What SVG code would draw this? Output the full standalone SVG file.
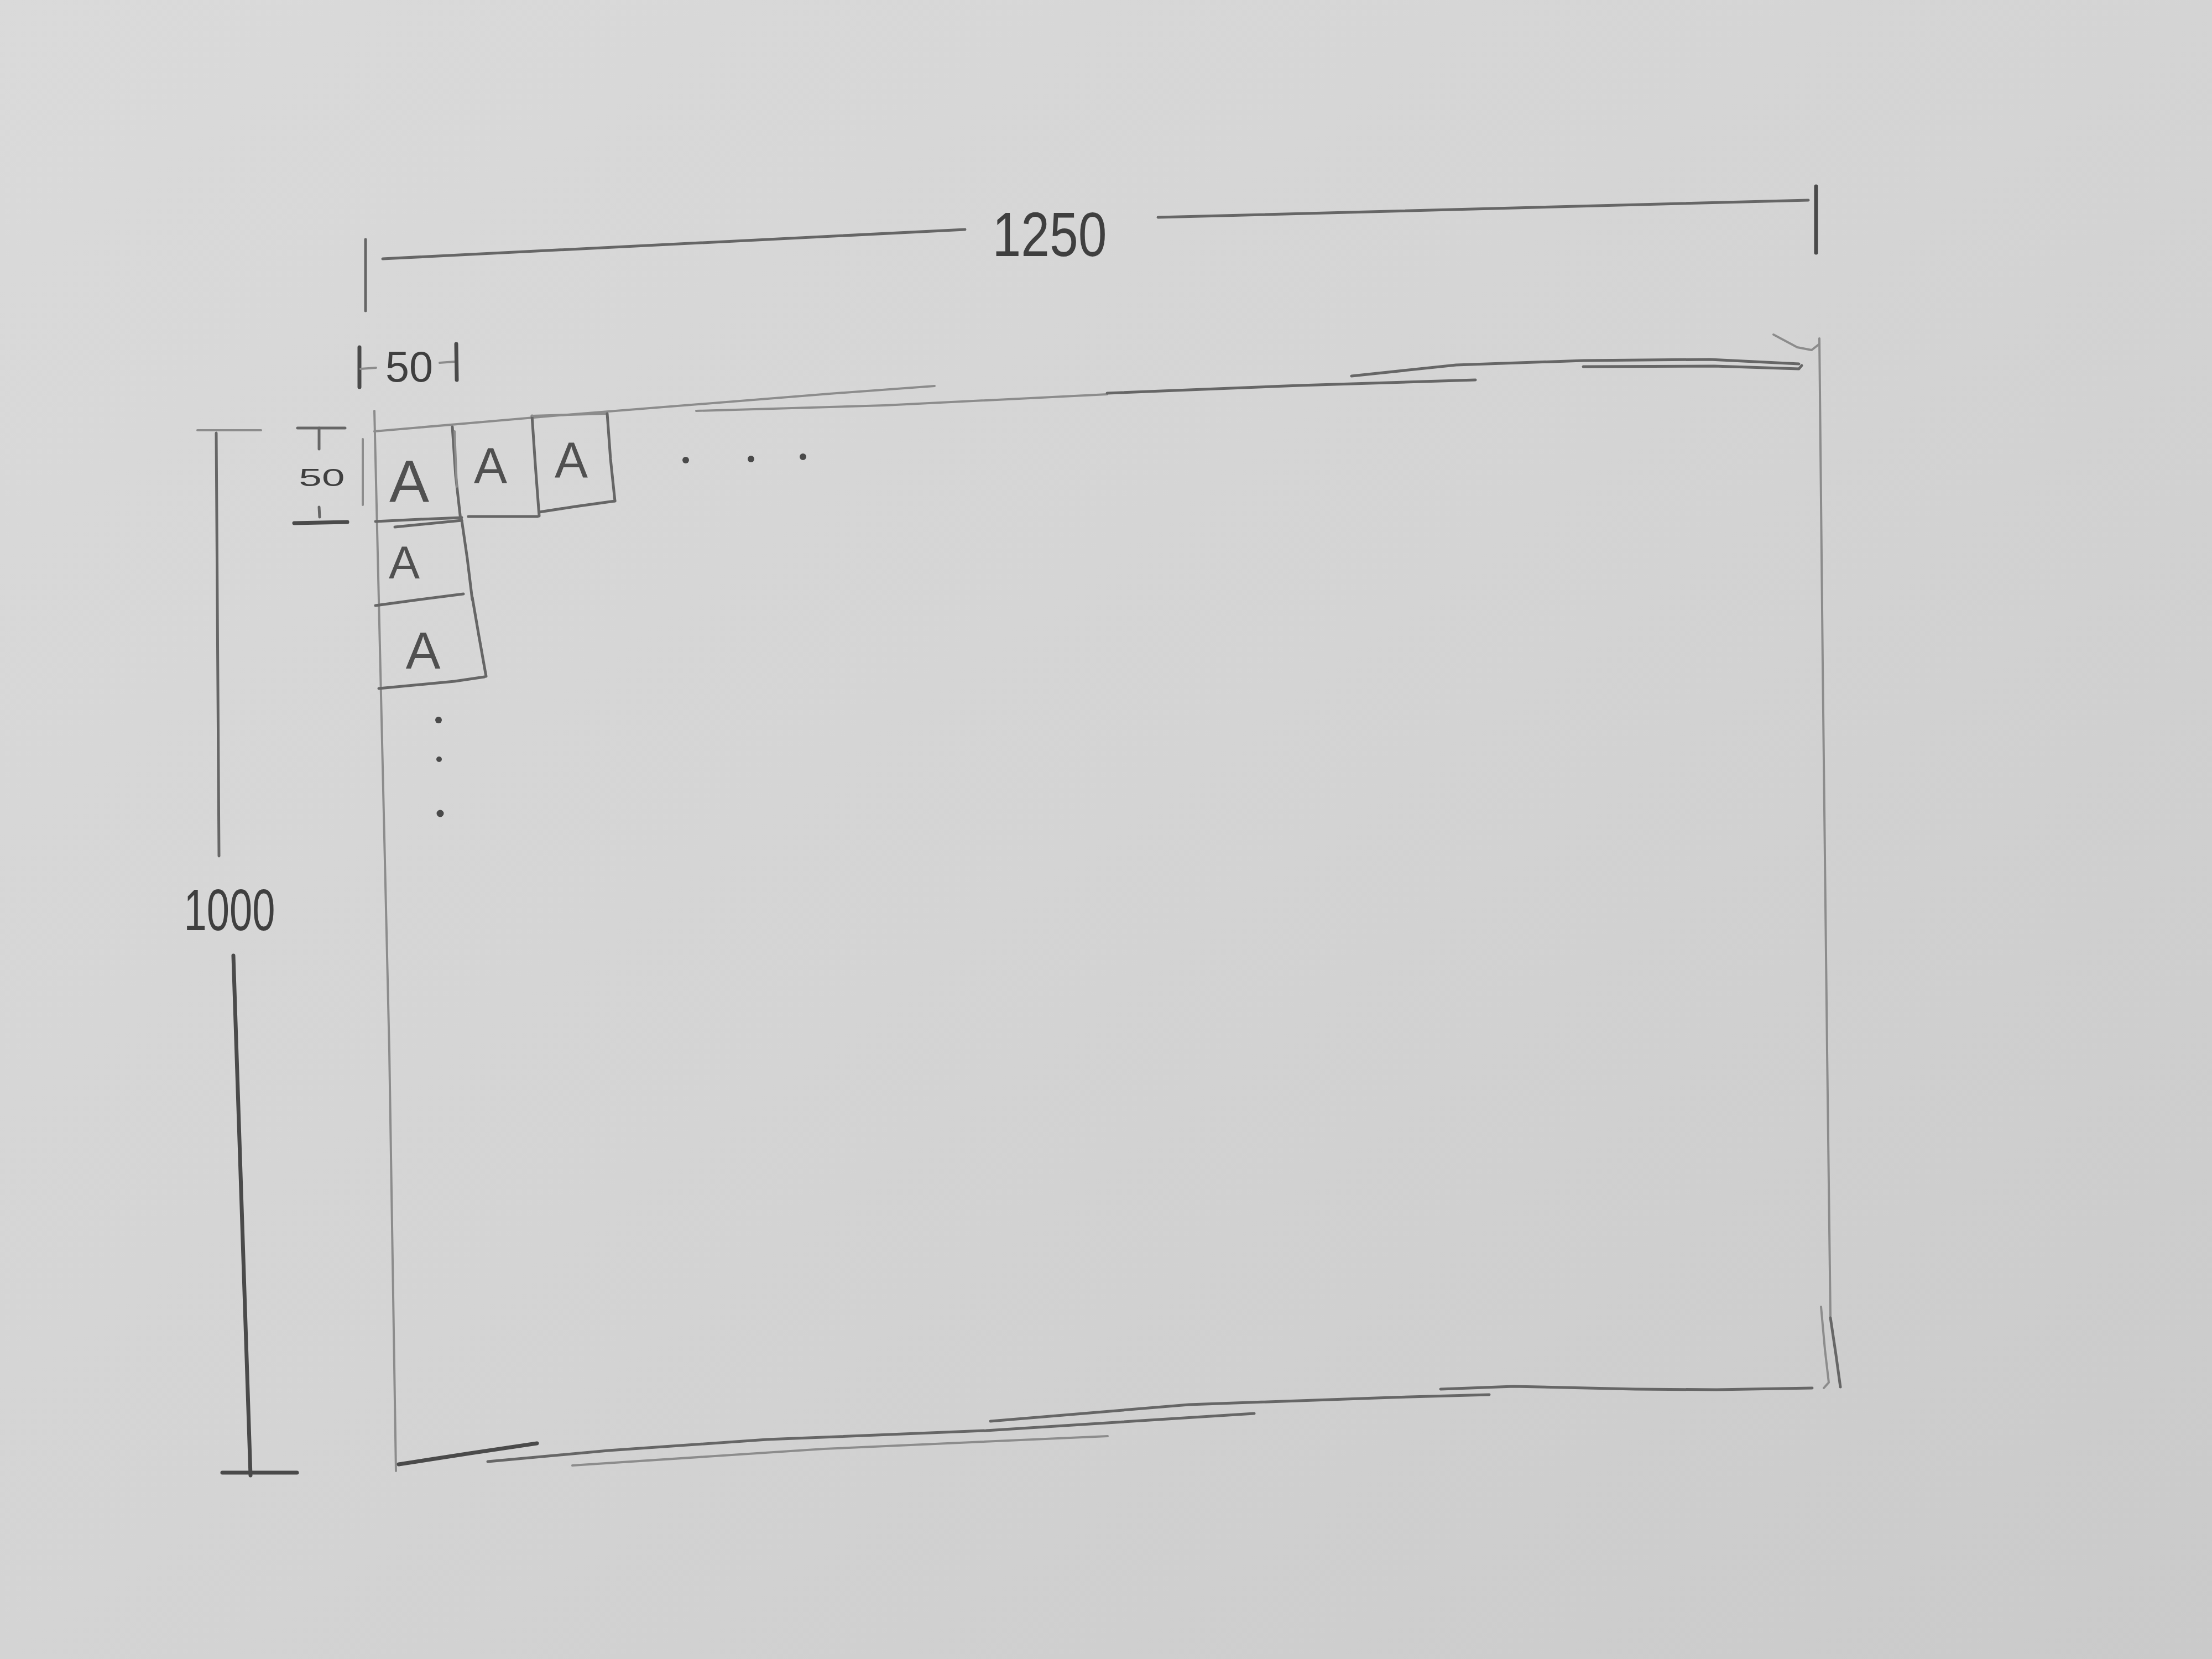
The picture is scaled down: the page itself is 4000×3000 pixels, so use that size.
<svg xmlns="http://www.w3.org/2000/svg" width="4000" height="3000" viewBox="0 0 4000 3000">
<defs>
<linearGradient id="paper" x1="0" y1="0" x2="1" y2="1">
<stop offset="0" stop-color="#dadada"/>
<stop offset="0.5" stop-color="#d4d4d4"/>
<stop offset="1" stop-color="#cacaca"/>
</linearGradient>
<style>
.dk{fill:none;stroke:#4a4a4a;stroke-width:7;stroke-linecap:round;stroke-linejoin:round}
.md{fill:none;stroke:#666666;stroke-width:5;stroke-linecap:round;stroke-linejoin:round}
.lt{fill:none;stroke:#8c8c8c;stroke-width:4;stroke-linecap:round;stroke-linejoin:round}
.txt{font-family:"Liberation Sans",Arial,sans-serif;fill:#3f3f3f;text-anchor:middle}
.a{font-family:"Liberation Sans",Arial,sans-serif;fill:#505050;text-anchor:middle}
.dot{fill:#4a4a4a}
</style>
</defs>
<rect x="0" y="0" width="4000" height="3000" fill="url(#paper)"/>

<g id="frame">
<polyline class="lt" points="677,743 690,1300 704,1900 716,2660"/>
<line class="lt" x1="656" y1="794" x2="656" y2="913"/>
<polyline class="lt" points="677,780 1000,752 1500,712 1690,698"/>
<polyline class="lt" points="1259,743 1600,733 2002,713"/>
<polyline class="md" points="2002,711 2350,697 2668,687"/>
<polyline class="md" points="2444,680 2633,660 2863,652 3092,650 3253,658"/>
<polyline class="md" points="2863,663 3100,662 3253,667 3258,661"/>
<polyline class="lt" points="3207,605 3250,628 3276,633 3290,622"/>
<polyline class="lt" points="3290,612 3296,1200 3304,1900 3310,2380"/>
<polyline class="lt" points="3293,2363 3300,2440 3307,2500 3298,2510"/>
<polyline class="md" points="3310,2383 3320,2450 3328,2508"/>
<polyline class="dk" points="721,2648 850,2628 971,2610"/>
<polyline class="md" points="882,2643 1100,2623 1387,2603 1783,2587 2268,2556"/>
<polyline class="lt" points="1035,2650 1490,2620 2003,2597"/>
<polyline class="md" points="1791,2570 2150,2540 2517,2527 2693,2522"/>
<polyline class="md" points="2605,2512 2737,2507 2957,2512 3104,2513 3277,2510"/>
</g>

<g id="dim-width">
<line class="md" x1="661" y1="433" x2="661" y2="562"/>
<line class="md" x1="692" y1="468" x2="1745" y2="415"/>
<line class="md" x1="2094" y1="393" x2="3270" y2="362"/>
<line class="dk" x1="3284" y1="337" x2="3284" y2="457"/>
<text class="txt" x="1898" y="463" font-size="113" textLength="207" lengthAdjust="spacingAndGlyphs">1250</text>
</g>

<g id="dim-height">
<line class="lt" x1="357" y1="778" x2="472" y2="778"/>
<line class="md" x1="391" y1="783" x2="396" y2="1548"/>
<line class="dk" x1="422" y1="1728" x2="453" y2="2668"/>
<line class="dk" x1="402" y1="2663" x2="537" y2="2663"/>
<text class="txt" x="415" y="1682" font-size="105" textLength="165" lengthAdjust="spacingAndGlyphs">1000</text>
</g>

<g id="dim-cell-width">
<line class="dk" x1="650" y1="628" x2="650" y2="700"/>
<line class="lt" x1="652" y1="667" x2="680" y2="665"/>
<line class="lt" x1="795" y1="656" x2="822" y2="654"/>
<line class="dk" x1="825" y1="622" x2="826" y2="687"/>
<text class="txt" x="740" y="690" font-size="77" textLength="86" lengthAdjust="spacingAndGlyphs">50</text>
</g>

<g id="dim-cell-height">
<line class="md" x1="538" y1="774" x2="624" y2="774"/>
<line class="md" x1="577" y1="774" x2="577" y2="812"/>
<text class="txt" x="582" y="879" font-size="44" textLength="83" lengthAdjust="spacingAndGlyphs">50</text>
<line class="md" x1="577" y1="917" x2="578" y2="935"/>
<line class="dk" x1="532" y1="946" x2="628" y2="944"/>
</g>

<g id="cell-1">
<polyline class="md" points="818,772 824,860 833,940"/>
<line class="lt" x1="822" y1="780" x2="826" y2="880"/>
<polyline class="md" points="679,943 760,939 835,936"/>
<text class="a" x="740" y="908" font-size="108">A</text>
</g>

<g id="cell-2">
<polyline class="md" points="962,752 968,840 975,933"/>
<polyline class="md" points="847,934 972,934"/>
<text class="a" x="887" y="873" font-size="90">A</text>
</g>

<g id="cell-3">
<polyline class="lt" points="962,752 1030,750 1098,748"/>
<polyline class="md" points="1098,748 1104,830 1112,906"/>
<polyline class="md" points="975,926 1040,916 1112,906"/>
<text class="a" x="1033" y="863" font-size="90">A</text>
</g>

<g id="cell-4">
<polyline class="md" points="714,953 835,941"/>
<polyline class="md" points="835,941 845,1010 854,1084"/>
<polyline class="md" points="679,1095 760,1084 838,1074"/>
<text class="a" x="731" y="1046" font-size="84">A</text>
</g>

<g id="cell-5">
<polyline class="md" points="854,1080 866,1150 879,1223"/>
<polyline class="md" points="685,1245 822,1232 876,1224"/>
<text class="a" x="765" y="1209" font-size="94">A</text>
</g>

<g id="continuation">
<circle class="dot" cx="1240" cy="832" r="6"/>
<circle class="dot" cx="1358" cy="830" r="6"/>
<circle class="dot" cx="1452" cy="826" r="6"/>
<circle class="dot" cx="793" cy="1302" r="6"/>
<circle class="dot" cx="794" cy="1373" r="5"/>
<circle class="dot" cx="796" cy="1471" r="6.5"/>
</g>
</svg>
